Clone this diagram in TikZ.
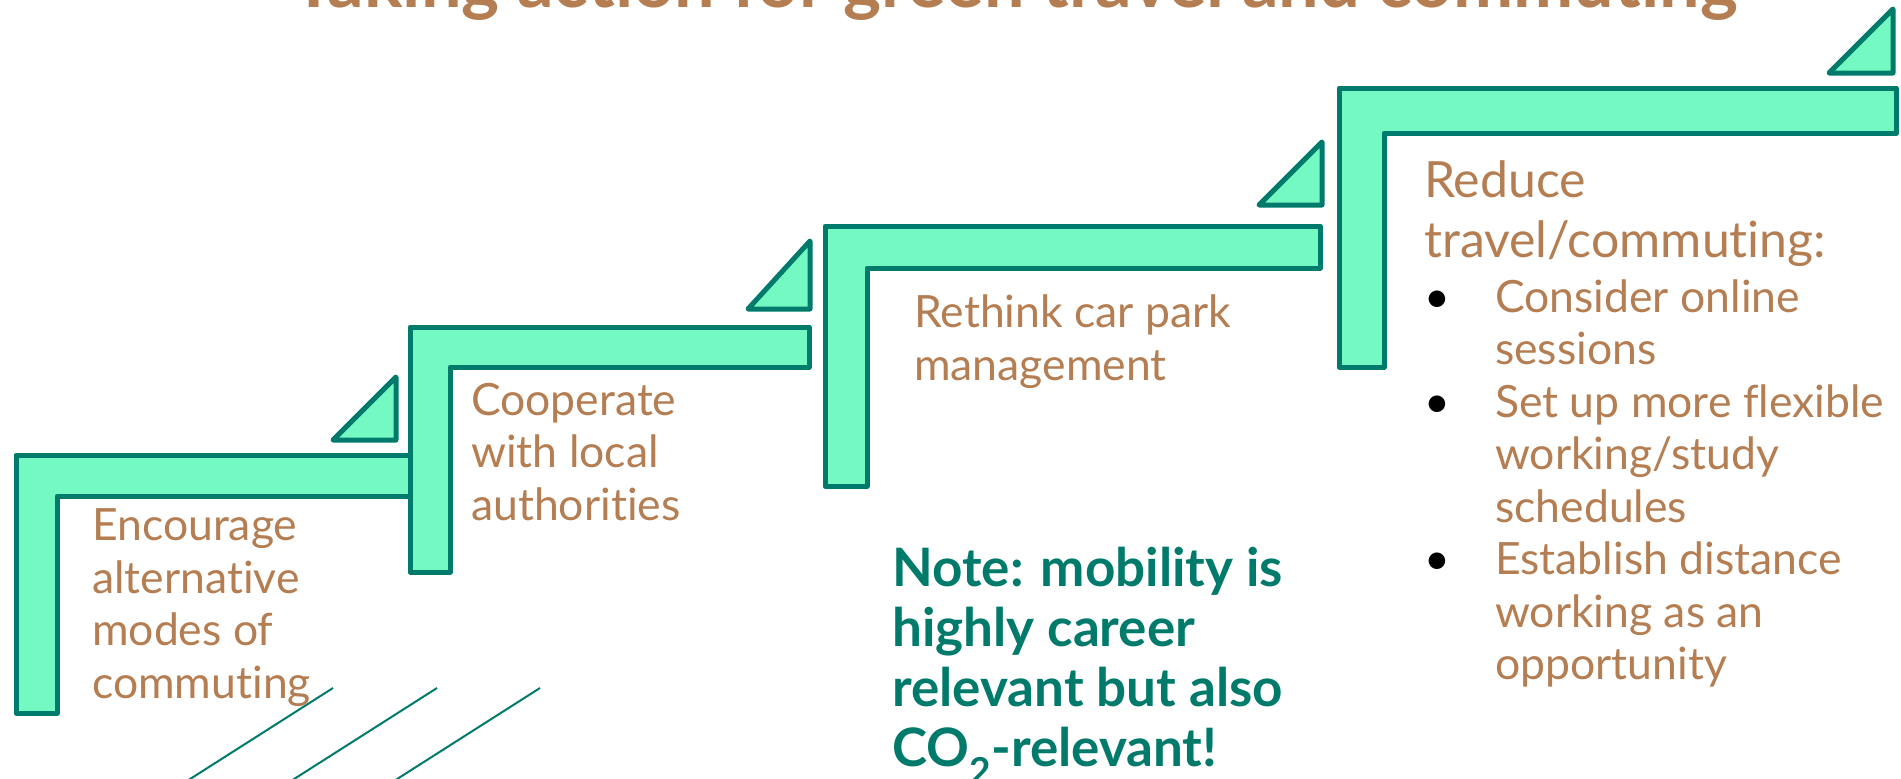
\documentclass[tikz,border=0pt]{standalone}
\usepackage{fontspec}
\setmainfont{Lato}[Ligatures=NoCommon]
\definecolor{stepfill}{HTML}{75F9C3}
\definecolor{stepline}{HTML}{007A6A}
\definecolor{textbrown}{HTML}{B47E52}

\begin{document}
\begin{tikzpicture}[x=1pt, y=-1pt,
  stair/.style={fill=stepfill, draw=stepline, line width=5pt, line join=round},
  steptext/.style={anchor=base west, inner sep=0pt, align=left, text=textbrown, font=\fontsize{44.5}{52.5}\selectfont},
  hatch/.style={draw=stepline, line width=2pt}]
  \useasboundingbox (0,0) rectangle (1901,779);
  \clip (0,0) rectangle (1901,779);
  % title, cut by the top edge
  \node[anchor=base, inner sep=0pt, text=textbrown, font=\fontsize{72}{86}\selectfont\bfseries] (title) at (1015,7) {Taking action for green travel and commuting};
  % the four steps, each with its small triangle
  \draw[stair] (16,713) -- (16,455) -- (430,455) -- (430,496) -- (57,496) -- (57,713) -- cycle;
  \draw[stair] (333,440) -- (396,440) -- (396,377) -- cycle;
  \draw[stair] (410,572) -- (410,327) -- (809,327) -- (809,367) -- (450,367) -- (450,572) -- cycle;
  \draw[stair] (748,309) -- (810,309) -- (810,241) -- cycle;
  \draw[stair] (825,486) -- (825,226) -- (1320,226) -- (1320,268) -- (867,268) -- (867,486) -- cycle;
  \draw[stair] (1259,205) -- (1322,205) -- (1322,142) -- cycle;
  \draw[stair] (1339,367) -- (1339,88) -- (1896,88) -- (1896,133) -- (1384,133) -- (1384,367) -- cycle;
  \draw[stair] (1829,73) -- (1893,73) -- (1893,9) -- cycle;
  % hatching at the foot
  \foreach \x in {333,437,540}
    \draw[hatch] (\x,688) -- ++(-157,100);
  % texts (placed by the baseline of their last line)
  \node[steptext] (encourage) at (92,698) {Encourage\\alternative\\modes of\\commuting};
  \node[steptext] (cooperate) at (471,520) {Cooperate\\with local\\authorities};
  \node[steptext] (rethink) at (914,380) {Rethink car park\\management};
  \node[steptext, font=\fontsize{50}{60}\selectfont] (reduce) at (1424,257) {Reduce\\travel/commuting:};
  \node[steptext] (tips) at (1424,312) {\begin{tabular}[t]{@{}p{71pt}@{}l@{}}
    \textcolor{black}{\textbullet} & Consider online\\
     & sessions\\
    \textcolor{black}{\textbullet} & Set up more flexible\\
     & working/study\\
     & schedules\\
    \textcolor{black}{\textbullet} & Establish distance\\
     & working as an\\
     & opportunity
  \end{tabular}};
  \node[steptext, text=stepline, font=\fontsize{53}{60}\selectfont\bfseries] (note) at (892,766) {Note: mobility is\\highly career\\relevant but also\\CO\textsubscript{2}-relevant!};
\end{tikzpicture}
\end{document}
